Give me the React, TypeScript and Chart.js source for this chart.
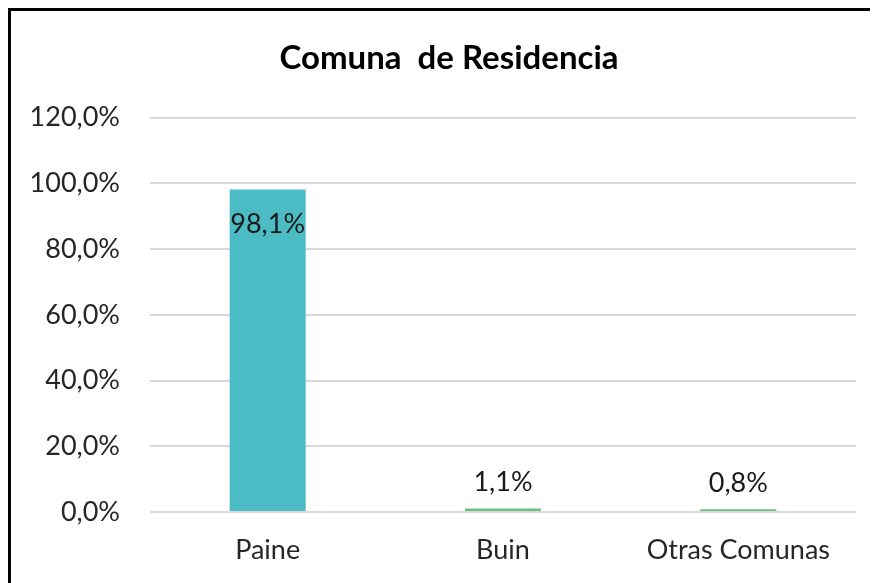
import React, { useEffect, useRef } from "react";
import { Chart, registerables } from "chart.js";

Chart.register(...registerables);

const categories = ["Paine", "Buin", "Otras Comunas"];
const values = [98.1, 1.1, 0.8];
const barColors = ["#4BBCC4", "#6CC07E", "#6CC07E"];
const yTicks = [0, 20, 40, 60, 80, 100, 120];
const titleText = "Comuna  de Residencia";

const FONT = "Lato, 'Open Sans', sans-serif";
const fmt = (v: number) => v.toFixed(1).replace(".", ",") + "%";

const labelPlugin = {
  id: "barLabels",
  afterDatasetsDraw(chart: any) {
    const ctx = chart.ctx;
    const meta = chart.getDatasetMeta(0);
    ctx.save();
    ctx.font = `27px ${FONT}`;
    ctx.fillStyle = "#1a1a1a";
    ctx.textAlign = "center";
    ctx.textBaseline = "middle";
    meta.data.forEach((bar: any, i: number) => {
      const v = values[i];
      const y = v > 50 ? bar.y + 35 : bar.y - 26;
      ctx.fillText(fmt(v), bar.x, y);
    });
    ctx.restore();
  },
};

export default function App() {
  const ref = useRef<HTMLCanvasElement | null>(null);
  useEffect(() => {
    if (!ref.current) return;
    const chart = new Chart(ref.current, {
      type: "bar",
      data: {
        labels: categories,
        datasets: [
          {
            data: values,
            backgroundColor: barColors,
            barPercentage: 0.323,
            categoryPercentage: 1,
            yAxisID: "y",
          },
        ],
      },
      options: {
        animation: false,
        responsive: true,
        maintainAspectRatio: false,
        layout: { padding: 0 },
        plugins: {
          legend: { display: false },
          tooltip: { enabled: false },
          title: {
            display: true,
            text: titleText,
            color: "#000",
            font: { family: FONT, size: 33, weight: "bold" },
            padding: { top: 28, bottom: 39 },
          },
        },
        scales: {
          x: {
            afterFit: (s: any) => {
              s.height = 79;
            },
            grid: { display: false, drawTicks: false },
            border: { display: false },
            ticks: {
              color: "#262626",
              font: { family: FONT, size: 27 },
              padding: 22,
              maxRotation: 0,
            },
          },
          y: {
            min: 0,
            max: 120,
            afterBuildTicks: (s: any) => {
              s.ticks = yTicks.map((v) => ({ value: v }));
            },
            afterFit: (s: any) => {
              s.width = 139;
            },
            grid: { color: "#d9d9d9", lineWidth: 2, drawTicks: false },
            border: { display: false },
            ticks: {
              color: "#262626",
              font: { family: FONT, size: 27 },
              padding: 30,
              callback: (v: any) => fmt(Number(v)),
            },
          },
          yR: {
            position: "right",
            display: true,
            afterFit: (s: any) => {
              s.width = 31;
            },
            grid: { display: false, drawTicks: false },
            border: { display: false },
            ticks: { display: false },
          },
        },
      },
      plugins: [labelPlugin],
    });
    return () => chart.destroy();
  }, []);
  return (
    <div
      style={{
        width: 876,
        height: 580,
        border: "3px solid #000",
        background: "#fff",
        position: "relative",
      }}
    >
      <canvas ref={ref} />
    </div>
  );
}
